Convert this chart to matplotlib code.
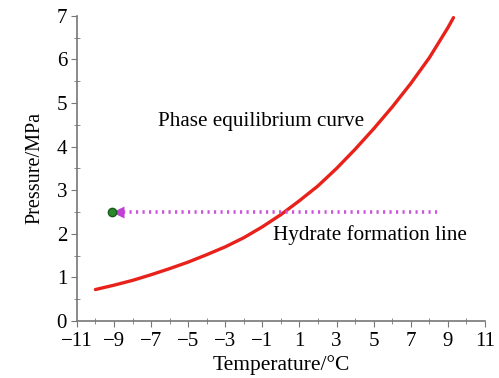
import matplotlib
matplotlib.use("Agg")
import matplotlib.pyplot as plt
import numpy as np

# phase equilibrium curve
temp = [-10, -9, -8, -7, -6, -5, -4, -3, -2, -1, 0, 1, 2, 3, 4, 5, 6, 7, 8, 9, 9.3]
pres = [0.72, 0.82, 0.93, 1.06, 1.20, 1.35, 1.52, 1.70, 1.91, 2.16, 2.44, 2.76,
        3.10, 3.50, 3.94, 4.41, 4.91, 5.45, 6.04, 6.73, 6.96]

# hydrate formation line
line_start = -8.8
line_end = 8.4
line_p = 2.5
dot_t = -9.1

xticks = list(range(-11, 12, 2))
yticks = list(range(0, 8))

plt.rcParams['font.family'] = ['Liberation Serif', 'DejaVu Serif']

fig = plt.figure(figsize=(4.99, 3.78), dpi=100)
ax = fig.add_axes([0.154, 0.151, 0.818, 0.807])

ax.plot(temp, pres, color='#e8221b', lw=2.4, solid_capstyle='round',
        solid_joinstyle='round')
ax.plot([line_start + 0.3, line_end], [line_p, line_p], ls=(0, (0.6, 1.2)),
        color='#cc55dd', lw=2.6)
ax.plot([line_start], [line_p], marker='<', color='#c040d8', ms=8, mec='none')
ax.plot([dot_t], [line_p], marker='o', color='#2a8a2a', ms=6, mec='#1a5a1a')

ax.text(-6.65, 4.57, 'Phase equilibrium curve', fontsize=15.2, va='center')
ax.text(-0.45, 1.97, 'Hydrate formation line', fontsize=15.2, va='center')

ax.set_xlim(-11, 11)
ax.set_ylim(0, 7)
ax.set_xticks(xticks)
ax.set_yticks(yticks)
ax.set_xticks(range(-11, 12), minor=True)
ax.set_yticks(np.arange(0, 7.01, 0.5), minor=True)
ax.tick_params(which='major', direction='out', length=4, color='#777777',
               labelsize=15)
ax.tick_params(axis='x', which='major', pad=4)
ax.tick_params(axis='y', which='major', pad=3)
ax.tick_params(which='minor', direction='inout', length=4, color='#777777')

for s in ['top', 'right']:
    ax.spines[s].set_visible(False)
for s in ['left', 'bottom']:
    ax.spines[s].set_color('#777777')
    ax.spines[s].set_linewidth(1.2)

ax.set_xlabel('Temperature/°C', fontsize=15.5, labelpad=3)
ax.set_ylabel('Pressure/MPa', fontsize=14.5, labelpad=9)

fig.savefig('out.png', dpi=100)
